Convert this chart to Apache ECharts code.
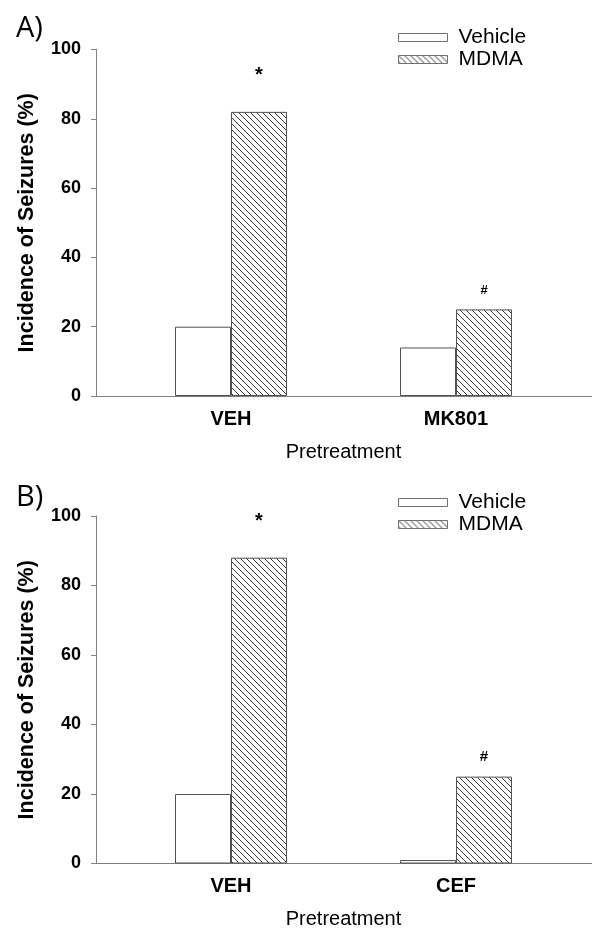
<!DOCTYPE html>
<html>
<head>
<meta charset="utf-8">
<script src="https://cdn.jsdelivr.net/npm/echarts@6/dist/echarts.min.js"></script>
<style>
html,body{margin:0;padding:0;background:#fff;}
#main{width:592px;height:928px;}
</style>
</head>
<body>
<div id="main"></div>
<script>
// ---- data ----
const seriesNames = ['Vehicle', 'MDMA'];
const categoriesA = ['VEH', 'MK801'];
const vehicleA = [20, 14];
const mdmaA = [82, 25];
const marksA = ['*', '#'];
const categoriesB = ['VEH', 'CEF'];
const vehicleB = [20, 1];
const mdmaB = [88, 25];
const marksB = ['*', '#'];
const yTicks = [0, 20, 40, 60, 80, 100];
const panelLabels = ['A)', 'B)'];
const xAxisTitle = 'Pretreatment';
const yAxisTitle = 'Incidence of Seizures (%)';

// ---- hatch pattern ----
function makeHatch() {
  const s = 6;
  const c = document.createElement('canvas');
  c.width = s; c.height = s;
  const g = c.getContext('2d');
  g.fillStyle = '#ffffff';
  g.fillRect(0, 0, s, s);
  g.strokeStyle = '#3a3a3a';
  g.lineWidth = 1;
  g.beginPath();
  g.moveTo(-1, -1); g.lineTo(s + 1, s + 1);
  g.moveTo(-1, s - 1); g.lineTo(1, s + 1);
  g.moveTo(s - 1, -1); g.lineTo(s + 1, 1);
  g.stroke();
  return c;
}
const hatch = { image: makeHatch(), repeat: 'repeat' };

const FONT = '"Liberation Sans", Arial, sans-serif';
const axisGray = '#808080';
const barBorder = '#505050';

const panels = [
  { top: 49.5, height: 346.5, cats: categoriesA, veh: vehicleA, mdma: mdmaA, marks: marksA, legendTop: 27, labelTop: 14.5, markSize: { '*': 20, '#': 13 } },
  { top: 516, height: 347.5, cats: categoriesB, veh: vehicleB, mdma: mdmaB, marks: marksB, legendTop: 492, labelTop: 483.5, markSize: { '*': 20, '#': 15 } }
];

const grid = [], xAxis = [], yAxis = [], series = [], legend = [], title = [];
panels.forEach((p, k) => {
  const gFrame = grid.length;
  grid.push({ left: 96, right: 0, top: p.top, height: p.height, outerBoundsMode: 'none', containLabel: false });
  grid.push({ left: 118.5, width: 450, top: p.top, height: p.height, outerBoundsMode: 'none', containLabel: false });
  // frame axes
  xAxis.push({
    gridIndex: gFrame, type: 'value', min: 0, max: 1,
    axisLine: { show: true, lineStyle: { color: axisGray, width: 1 } },
    axisTick: { show: false }, axisLabel: { show: false }, splitLine: { show: false }
  });
  yAxis.push({
    gridIndex: gFrame, type: 'value', min: 0, max: 100, interval: 20,
    axisLine: { show: true, lineStyle: { color: axisGray, width: 1 } },
    axisTick: { show: true, length: 5, inside: false, lineStyle: { color: axisGray } },
    axisLabel: { margin: 15, fontFamily: FONT, fontWeight: 'bold', fontSize: 18, color: '#000' },
    splitLine: { show: false },
    name: yAxisTitle, nameLocation: 'middle', nameGap: 58, nameRotate: 90,
    nameTextStyle: { fontFamily: FONT, fontWeight: 'bold', fontSize: 21.5, color: '#000' }
  });
  // bar axes
  xAxis.push({
    gridIndex: gFrame + 1, type: 'category', data: p.cats, boundaryGap: true,
    axisLine: { show: false }, axisTick: { show: false },
    axisLabel: { margin: 13, fontFamily: FONT, fontWeight: 'bold', fontSize: 20, color: '#000' },
    name: xAxisTitle, nameLocation: 'middle', nameGap: 46,
    nameTextStyle: { fontFamily: FONT, fontSize: 20, color: '#000' }
  });
  yAxis.push({
    gridIndex: gFrame + 1, type: 'value', min: 0, max: 100, show: false, splitLine: { show: false }
  });
  series.push({
    name: seriesNames[0], type: 'bar', xAxisIndex: gFrame + 1, yAxisIndex: gFrame + 1,
    data: p.veh, barWidth: 56, barGap: '0%',
    itemStyle: { color: '#ffffff', borderColor: barBorder, borderWidth: 1 },
    emphasis: { disabled: true }, animation: false
  });
  series.push({
    name: seriesNames[1], type: 'bar', xAxisIndex: gFrame + 1, yAxisIndex: gFrame + 1,
    data: p.mdma.map((v, i) => ({
      value: v,
      label: {
        show: true, position: 'top', formatter: p.marks[i],
        fontFamily: FONT, fontWeight: 'bold', fontSize: p.markSize[p.marks[i]], color: '#000',
        distance: p.marks[i] === '*' ? 26 : 12
      }
    })),
    barWidth: 56, barGap: '0%',
    itemStyle: { color: hatch, borderColor: barBorder, borderWidth: 1 },
    emphasis: { disabled: true }, animation: false
  });
  legend.push({
    orient: 'vertical', left: 398, top: p.legendTop, padding: 0, icon: 'rect',
    itemWidth: 49, itemHeight: 8, itemGap: 1,
    data: seriesNames, selectedMode: false,
    itemStyle: { borderColor: '#707070', borderWidth: 1 },
    textStyle: { fontFamily: FONT, fontSize: 21, color: '#000', padding: [0, 0, 0, 6] }
  });
  title.push({
    text: panelLabels[k], left: 16, top: p.labelTop, padding: 0,
    textStyle: { fontFamily: '"Open Sans", sans-serif', fontWeight: 'normal', fontSize: 29, color: '#000' }
  });
});

const chart = echarts.init(document.getElementById('main'), null, { renderer: 'canvas' });
chart.setOption({ animation: false, title, grid, xAxis, yAxis, series, legend });
</script>
</body>
</html>
